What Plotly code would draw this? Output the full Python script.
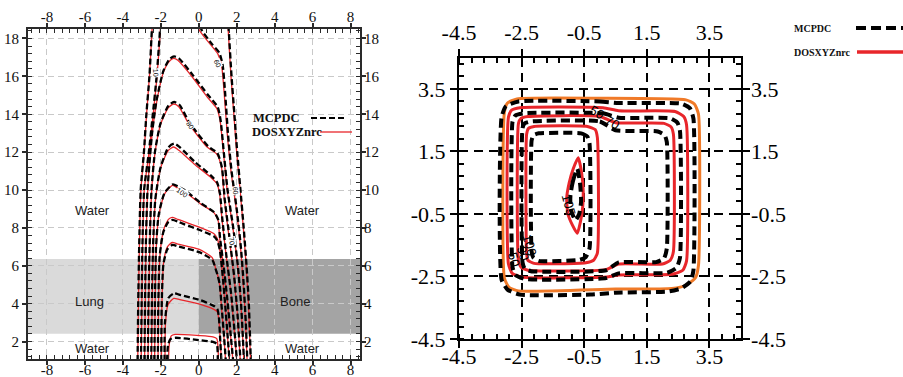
import plotly.graph_objects as go

# ---------------- data: left panel (depth-dose isodose lines) ----------------
LEFT_X_TICKS = [-8, -6, -4, -2, 0, 2, 4, 6, 8]
LEFT_X_TEXT = ["-8", "-6", "-4", "-2", "0", "2", "4", "6", "8"]
LEFT_Y_TICKS = [2, 4, 6, 8, 10, 12, 14, 16, 18]
LEFT_Y_TEXT = ["2", "4", "6", "8", "10", "12", "14", "16", "18"]

# slab regions
LUNG_X = [-9, 0]
BONE_X = [0, 8.5]
SLAB_Y = [2.41, 6.36]
REGION_TEXT = ["Water", "Water", "Lung", "Bone", "Water", "Water"]
REGION_X = [-5.6, 5.45, -5.75, 5.05, -5.6, 5.45]
REGION_Y = [8.9, 8.9, 4.12, 4.12, 1.66, 1.66]

DOS_LEFT_X = [
    [-3.22, -3.18, -3.13, -3.05, -2.88, -2.75, -2.6, -2.46, -2.43, 1.52, 1.55, 1.7, 1.85, 2.0, 2.18, 2.35, 2.5, 2.62, 2.75],
    [-3.04, -3.0, -2.96, -2.87, -2.62, -2.4, -2.2, -2.02, -2.0, -0.08, 0.0, 0.6, 1.0, 1.2, 1.35, 1.5, 1.7, 1.98, 2.2, 2.35, 2.47, 2.57],
    [-2.86, -2.82, -2.78, -2.69, -2.45, -2.2, -1.85, -1.55, -1.32, -1.1, -0.35, 0.44, 0.95, 1.12, 1.3, 1.5, 1.8, 2.05, 2.22, 2.4],
    [-2.68, -2.64, -2.58, -2.48, -2.3, -2.0, -1.6, -1.32, -1.05, -0.53, 0.44, 0.95, 1.2, 1.35, 1.6, 1.85, 2.03, 2.22],
    [-2.5, -2.46, -2.4, -2.28, -2.0, -1.6, -1.32, -1.05, -0.26, 0.62, 0.95, 1.1, 1.22, 1.45, 1.7, 1.88, 2.04],
    [-2.33, -2.3, -2.24, -2.1, -1.8, -1.38, -1.1, -0.79, 0.09, 0.79, 1.02, 1.1, 1.3, 1.5, 1.68, 1.85],
    [-2.15, -2.12, -2.05, -1.85, -1.6, -1.4, -1.1, -0.8, 0.0, 0.79, 0.97, 1.1, 1.25, 1.38, 1.52, 1.65],
    [-1.97, -1.94, -1.85, -1.65, -1.4, -1.1, 0.0, 0.7, 0.88, 1.0, 1.1, 1.2, 1.33, 1.45],
    [-1.78, -1.75, -1.62, -1.32, -1.0, 0.05, 0.8, 0.97, 1.05, 1.12, 1.22],
    [-1.6, -1.56, -1.45, -1.25, 0.0, 0.75, 0.95, 1.02, 1.05],
]
DOS_LEFT_Y = [
    [0.5, 4, 7, 10, 12, 14, 16, 18.5, 19.2, 19.2, 18.5, 16, 14, 12, 10, 8, 6, 4, 0.5],
    [0.5, 4, 7, 10, 12, 14, 16, 18.5, 19.2, 19.2, 18.5, 17.7, 17.2, 16.6, 15, 13, 11, 9, 7, 5, 3, 0.5],
    [0.5, 4, 7, 10, 13, 14.75, 16.25, 16.8, 16.95, 16.85, 15.98, 14.92, 14.3, 13.7, 12, 10, 8, 6, 4, 0.5],
    [0.5, 4, 7, 10, 12, 13.5, 14.35, 14.54, 14.4, 13.51, 12.27, 11.9, 11.2, 9.5, 7.5, 5.5, 3.5, 0.5],
    [0.5, 4, 7, 9.5, 11.2, 12.1, 12.27, 12.1, 11.39, 10.68, 10.35, 9.8, 8.5, 6.5, 4.5, 2.5, 0.5],
    [0.5, 4, 7, 8.7, 9.8, 10.24, 10.1, 9.95, 9.27, 8.82, 8.4, 7.5, 6.0, 4.2, 2.3, 0.5],
    [0.5, 4, 6.5, 7.9, 8.45, 8.56, 8.45, 8.35, 8.05, 7.7, 7.45, 6.9, 5.5, 4.0, 2.2, 0.5],
    [0.5, 4, 6.2, 7.0, 7.23, 7.15, 6.88, 6.44, 5.9, 5.5, 5.0, 3.8, 2.2, 0.5],
    [0.5, 3.0, 3.95, 4.28, 4.22, 3.98, 3.7, 3.58, 3.25, 2.3, 0.5],
    [0.5, 1.8, 2.3, 2.38, 2.32, 2.25, 2.15, 1.6, 0.5],
]

MC_LEFT_X = [
    [-3.23, -3.19, -3.14, -3.06, -2.89, -2.76, -2.6, -2.47, -2.44, 1.55, 1.58, 1.73, 1.88, 2.03, 2.2, 2.37, 2.52, 2.64, 2.76],
    [-3.05, -3.01, -2.97, -2.88, -2.63, -2.42, -2.22, -2.04, -2.02, 0.05, 0.13, 0.7, 1.08, 1.26, 1.4, 1.54, 1.73, 2.0, 2.22, 2.37, 2.48, 2.58],
    [-2.87, -2.83, -2.79, -2.7, -2.46, -2.22, -1.86, -1.55, -1.3, -1.05, -0.3, 0.5, 1.0, 1.15, 1.32, 1.52, 1.82, 2.06, 2.23, 2.41],
    [-2.69, -2.65, -2.59, -2.49, -2.31, -2.02, -1.6, -1.3, -1.02, -0.5, 0.5, 0.98, 1.22, 1.37, 1.62, 1.86, 2.04, 2.23],
    [-2.51, -2.47, -2.41, -2.29, -2.01, -1.6, -1.3, -1.02, -0.22, 0.66, 0.97, 1.12, 1.24, 1.46, 1.71, 1.89, 2.05],
    [-2.34, -2.31, -2.25, -2.11, -1.8, -1.36, -1.08, -0.75, 0.12, 0.82, 1.04, 1.12, 1.31, 1.51, 1.69, 1.86],
    [-2.16, -2.13, -2.06, -1.86, -1.6, -1.38, -1.08, -0.78, 0.02, 0.8, 0.98, 1.11, 1.26, 1.39, 1.53, 1.66],
    [-1.98, -1.95, -1.86, -1.65, -1.38, -1.08, 0.02, 0.72, 0.9, 1.01, 1.11, 1.21, 1.34, 1.46],
    [-1.8, -1.78, -1.6, -1.3, -1.0, 0.05, 0.8, 0.98, 1.06, 1.12, 1.22],
    [-1.68, -1.62, -1.5, -1.25, 0.0, 0.75, 0.95, 1.0, 1.0],
]
MC_LEFT_Y = [
    [0.5, 4, 7, 10, 12, 14, 16, 18.5, 19.2, 19.2, 18.5, 16, 14, 12, 10, 8, 6, 4, 0.5],
    [0.5, 4, 7, 10, 12, 14, 16, 18.5, 19.2, 19.2, 18.5, 17.7, 17.25, 16.6, 15, 13, 11, 9, 7, 5, 3, 0.5],
    [0.5, 4, 7, 10, 13, 14.75, 16.3, 16.9, 17.05, 16.95, 16.05, 15.0, 14.38, 13.7, 12, 10, 8, 6, 4, 0.5],
    [0.5, 4, 7, 10, 12, 13.5, 14.45, 14.65, 14.5, 13.58, 12.3, 11.95, 11.2, 9.5, 7.5, 5.5, 3.5, 0.5],
    [0.5, 4, 7, 9.5, 11.2, 12.25, 12.45, 12.28, 11.5, 10.75, 10.4, 9.8, 8.5, 6.5, 4.5, 2.5, 0.5],
    [0.5, 4, 7, 8.7, 9.85, 10.3, 10.18, 10.0, 9.3, 8.82, 8.4, 7.5, 6.0, 4.2, 2.3, 0.5],
    [0.5, 4, 6.5, 7.8, 8.32, 8.42, 8.32, 8.2, 7.9, 7.55, 7.32, 6.85, 5.5, 4.0, 2.2, 0.5],
    [0.5, 4, 6.1, 6.88, 7.1, 7.02, 6.72, 6.3, 5.8, 5.45, 5.0, 3.8, 2.2, 0.5],
    [0.5, 3.0, 4.3, 4.55, 4.47, 4.2, 3.88, 3.72, 3.3, 2.3, 0.5],
    [0.5, 1.8, 2.12, 2.2, 2.08, 1.98, 1.88, 1.4, 0.5],
]

LEFT_LBL_TEXT = ["60", "80", "10", "100", "60", "70"]
LEFT_LBL_X = [1.0, -0.45, -2.27, -0.9, 1.92, 1.76]
LEFT_LBL_Y = [16.7, 13.4, 16.2, 9.85, 9.95, 7.3]
LEFT_LBL_ANG = [65, 55, 85, 35, 85, 80]

# ---------------- data: right panel (transverse isodose lines) ----------------
RIGHT_TICKS = [-4.5, -2.5, -0.5, 1.5, 3.5]
RIGHT_TEXT = ["-4.5", "-2.5", "-0.5", "1.5", "3.5"]

DOS50_X = [-2.65, 0.0, 2.75, 3.02, 3.15, 3.15, 3.05, 2.75, 2.3, 0.5, -2.6, -2.9, -3.05, -3.05, -2.95, -2.65]
DOS50_Y = [3.18, 3.2, 3.15, 3.02, 2.7, -2.15, -2.55, -2.78, -2.88, -2.9, -2.96, -2.85, -2.55, 2.75, 3.05, 3.18]
MC50_X = [-2.6, 0.0, 0.6, 2.6, 2.88, 2.99, 2.99, 2.9, 2.6, 2.2, 0.5, -0.3, -2.55, -2.95, -3.14, -3.14, -3.0, -2.6]
MC50_Y = [3.1, 3.1, 3.05, 3.03, 2.88, 2.55, -2.3, -2.65, -2.88, -2.98, -3.02, -3.08, -3.08, -2.92, -2.6, 2.6, 2.95, 3.1]

DOS70_X = [-2.55, 0.1, 0.6, 2.4, 2.68, 2.77, 2.77, 2.65, 2.3, 0.6, 0.2, -2.5, -2.8, -2.92, -2.92, -2.82, -2.55]
DOS70_Y = [2.9, 2.9, 2.8, 2.78, 2.62, 2.35, -2.0, -2.3, -2.43, -2.45, -2.52, -2.52, -2.4, -2.1, 2.6, 2.82, 2.9]
MC70_X = [-2.45, 0.1, 0.6, 2.25, 2.48, 2.56, 2.56, 2.45, 2.15, 0.6, 0.2, -2.4, -2.7, -2.79, -2.79, -2.7, -2.45]
MC70_Y = [2.72, 2.72, 2.58, 2.56, 2.42, 2.15, -1.9, -2.22, -2.38, -2.4, -2.55, -2.58, -2.45, -2.2, 2.45, 2.65, 2.72]

DOS90_X = [-2.3, 0.0, 0.5, 2.05, 2.28, 2.35, 2.35, 2.25, 2.0, 0.6, 0.2, -2.3, -2.52, -2.6, -2.6, -2.52, -2.3]
DOS90_Y = [2.62, 2.62, 2.42, 2.4, 2.28, 2.05, -1.7, -1.98, -2.1, -2.1, -2.28, -2.3, -2.2, -2.0, 2.4, 2.56, 2.62]
MC90_X = [-2.2, 0.0, 0.5, 1.85, 2.07, 2.14, 2.14, 2.05, 1.8, 0.6, 0.2, -2.2, -2.4, -2.47, -2.47, -2.4, -2.2]
MC90_Y = [2.46, 2.46, 2.18, 2.14, 2.02, 1.8, -1.6, -1.92, -2.04, -2.05, -2.3, -2.33, -2.25, -2.05, 2.25, 2.4, 2.46]

DOS100_X = [-2.1, -0.4, -0.15, -0.08, -0.08, -0.2, -0.45, -2.1, -2.3, -2.34, -2.34, -2.28, -2.1]
DOS100_Y = [2.3, 2.3, 2.2, 1.95, -1.75, -1.98, -2.06, -2.08, -1.98, -1.75, 2.05, 2.24, 2.3]
MC100_X = [-1.95, -0.6, -0.4, -0.33, -0.33, -0.45, -0.65, -1.95, -2.12, -2.18, -2.18, -2.12, -1.95]
MC100_Y = [2.08, 2.08, 1.98, 1.75, -1.6, -1.88, -1.97, -2.0, -1.9, -1.7, 1.85, 2.02, 2.08]

DOS105_X = [-0.69, -0.85, -0.98, -1.06, -1.02, -0.88, -0.72, -0.62, -0.55, -0.53, -0.58, -0.69]
DOS105_Y = [1.3, 0.95, 0.5, 0.0, -0.5, -0.85, -1.12, -0.75, -0.3, 0.2, 0.8, 1.3]
MC105_X = [-0.72, -0.86, -0.94, -0.93, -0.78, -0.66, -0.6, -0.63, -0.72]
MC105_Y = [0.95, 0.55, 0.1, -0.35, -0.7, -0.5, -0.1, 0.45, 0.95]

RIGHT_LBL_TEXT = ["50", "70", "105", "100", "90", "50"]
RIGHT_LBL_X = [-0.08, 0.39, -1.0, -2.23, -2.45, -2.74]
RIGHT_LBL_Y = [2.76, 2.42, -0.2, -1.5, -1.76, -1.95]
RIGHT_LBL_ANG = [30, 30, 75, 75, 75, 75]

SERIES = ["MCPDC", "DOSXYZnrc"]

# ---------------- styles ----------------
RED = "#e8262b"
ORANGE = "#f07a28"
SERIF = "Liberation Serif, Times New Roman, serif"
SANS = "Liberation Sans, Arial, sans-serif"
W, H = 903, 377

fig = go.Figure()

# left panel contours
for xs, ys in zip(DOS_LEFT_X, DOS_LEFT_Y):
    fig.add_trace(go.Scatter(x=xs, y=ys, mode="lines", xaxis="x", yaxis="y",
                             line=dict(color=RED, width=1.3, shape="spline", smoothing=0.6),
                             showlegend=False, hoverinfo="skip"))
for xs, ys in zip(MC_LEFT_X, MC_LEFT_Y):
    fig.add_trace(go.Scatter(x=xs, y=ys, mode="lines", xaxis="x", yaxis="y",
                             line=dict(color="black", width=2.3, dash="6px,3px", shape="spline", smoothing=0.6),
                             showlegend=False, hoverinfo="skip"))

# right panel contours
right_sets = [
    (DOS50_X, DOS50_Y, ORANGE, 3.0, "solid"),
    (DOS70_X, DOS70_Y, RED, 3.0, "solid"),
    (DOS90_X, DOS90_Y, RED, 3.0, "solid"),
    (DOS100_X, DOS100_Y, RED, 3.0, "solid"),
    (DOS105_X, DOS105_Y, RED, 3.0, "solid"),
    (MC50_X, MC50_Y, "black", 4.0, "9px,5px"),
    (MC70_X, MC70_Y, "black", 4.0, "9px,5px"),
    (MC90_X, MC90_Y, "black", 4.0, "9px,5px"),
    (MC100_X, MC100_Y, "black", 4.0, "9px,5px"),
    (MC105_X, MC105_Y, "black", 4.0, "9px,5px"),
]
for xs, ys, col, wd, ds in right_sets:
    fig.add_trace(go.Scatter(x=xs, y=ys, mode="lines", xaxis="x2", yaxis="y2",
                             line=dict(color=col, width=wd, dash=ds, shape="spline", smoothing=0.5),
                             showlegend=False, hoverinfo="skip"))

# dummy traces to register mirrored label axes
fig.add_trace(go.Scatter(x=[None], y=[None], xaxis="x3", yaxis="y3", showlegend=False, hoverinfo="skip"))
fig.add_trace(go.Scatter(x=[None], y=[None], xaxis="x4", yaxis="y4", showlegend=False, hoverinfo="skip"))

# domains (pixel-derived)
LX = [28 / W, 360 / W]
LY = [1 - 359 / H, 1 - 29 / H]
RX = [459 / W, 740.7 / W]
RY = [1 - 339 / H, 1 - 57.7 / H]

AX_COL = "#2a2a2a"

def left_axis(tickvals, ticktext, rng, dom, side, grid, **kw):
    d = dict(range=rng, domain=dom, side=side, tickmode="array", tickvals=tickvals, ticktext=ticktext,
             ticks="outside", ticklen=4, tickwidth=1.5, tickcolor=AX_COL,
             showline=True, linecolor=AX_COL, linewidth=2,
             showgrid=grid, gridcolor="#c9c9c9", gridwidth=1, griddash="6px,4px",
             zeroline=False, tickfont=dict(family=SERIF, size=15, color="#111"),
             minor=dict(ticks="inside", ticklen=4, tickwidth=1.2, tickcolor=AX_COL, dtick=0.4, tick0=0, showgrid=False),
             fixedrange=True, automargin=False)
    d.update(kw)
    return d

def right_axis(dom, side, grid, **kw):
    d = dict(range=[-4.5, 4.5], domain=dom, side=side, tickmode="array", tickvals=RIGHT_TICKS, ticktext=RIGHT_TEXT,
             ticks="outside", ticklen=7, tickwidth=2, tickcolor="black",
             showline=True, linecolor="black", linewidth=2,
             showgrid=grid, gridcolor="black", gridwidth=1.8, griddash="9px,6px",
             zeroline=False, tickfont=dict(family=SERIF, size=22, color="black"),
             minor=dict(ticks="inside", ticklen=5, tickwidth=1.5, tickcolor="black", dtick=0.4, tick0=-4.5, showgrid=False),
             fixedrange=True, automargin=False)
    d.update(kw)
    return d

layout = dict(
    width=W, height=H, margin=dict(l=0, r=0, t=0, b=0, pad=0), autosize=False,
    paper_bgcolor="white", plot_bgcolor="white", showlegend=False,
    xaxis=left_axis(LEFT_X_TICKS, LEFT_X_TEXT, [-9, 8.5], LX, "bottom", True, anchor="y", ticklabelstandoff=-8),
    yaxis=left_axis(LEFT_Y_TICKS, LEFT_Y_TEXT, [1.08, 18.5], LY, "left", True, anchor="x"),
    xaxis3=left_axis(LEFT_X_TICKS, LEFT_X_TEXT, [-9, 8.5], LX, "top", False, anchor="y3", overlaying="x",
                     ticklabelstandoff=-5),
    yaxis3=left_axis(LEFT_Y_TICKS, LEFT_Y_TEXT, [1.08, 18.5], LY, "right", False, anchor="x3", overlaying="y",
                     ticklabelstandoff=-5),
    xaxis2=right_axis(RX, "bottom", True, anchor="y2", ticklabelstandoff=-10),
    yaxis2=right_axis(RY, "left", True, anchor="x2"),
    xaxis4=right_axis(RX, "top", False, anchor="y4", overlaying="x2"),
    yaxis4=right_axis(RY, "right", False, anchor="x4", overlaying="y2", ticklabelstandoff=-3),
)
fig.update_layout(**layout)

# slab shading
fig.add_shape(type="rect", xref="x", yref="y", x0=LUNG_X[0], x1=LUNG_X[1], y0=SLAB_Y[0], y1=SLAB_Y[1],
              fillcolor="#dadada", line=dict(width=0), layer="below")
fig.add_shape(type="rect", xref="x", yref="y", x0=BONE_X[0], x1=BONE_X[1], y0=SLAB_Y[0], y1=SLAB_Y[1],
              fillcolor="#a4a4a4", line=dict(width=0), layer="below")

for t, x, y in zip(REGION_TEXT, REGION_X, REGION_Y):
    fig.add_annotation(x=x, y=y, xref="x", yref="y", text=t, showarrow=False,
                       font=dict(family=SANS, size=13, color="#222"))

for t, x, y, a in zip(LEFT_LBL_TEXT, LEFT_LBL_X, LEFT_LBL_Y, LEFT_LBL_ANG):
    fig.add_annotation(x=x, y=y, xref="x", yref="y", text=t, showarrow=False, textangle=a,
                       font=dict(family=SANS, size=7, color="black"), bgcolor="white", borderpad=0)

for t, x, y, a in zip(RIGHT_LBL_TEXT, RIGHT_LBL_X, RIGHT_LBL_Y, RIGHT_LBL_ANG):
    fig.add_annotation(x=x, y=y, xref="x2", yref="y2", text=t, showarrow=False, textangle=a,
                       font=dict(family=SANS, size=13, color="black"))

# left in-plot legend
fig.add_annotation(x=251 / W, y=1 - 118 / H, xref="paper", yref="paper", xanchor="left", yanchor="middle",
                   text="<b>" + SERIES[0] + "</b>", showarrow=False, font=dict(family=SERIF, size=12.5, color="#111"))
fig.add_annotation(x=250 / W, y=1 - 132 / H, xref="paper", yref="paper", xanchor="left", yanchor="middle",
                   text="<b>" + SERIES[1] + "</b>", showarrow=False, font=dict(family=SERIF, size=12.5, color="#111"))
fig.add_shape(type="line", xref="paper", yref="paper", x0=311 / W, x1=344 / W, y0=1 - 118 / H, y1=1 - 118 / H,
              line=dict(color="black", width=2, dash="6px,3px"))
fig.add_shape(type="line", xref="paper", yref="paper", x0=320 / W, x1=352 / W, y0=1 - 132 / H, y1=1 - 132 / H,
              line=dict(color=RED, width=1.3))

# right legend
fig.add_annotation(x=792 / W, y=1 - 28 / H, xref="paper", yref="paper", xanchor="left", yanchor="middle",
                   text="<b>" + SERIES[0] + "</b>", showarrow=False, font=dict(family=SERIF, size=10, color="#111"))
fig.add_annotation(x=792 / W, y=1 - 52 / H, xref="paper", yref="paper", xanchor="left", yanchor="middle",
                   text="<b>" + SERIES[1] + "</b>", showarrow=False, font=dict(family=SERIF, size=10, color="#111"))
fig.add_shape(type="line", xref="paper", yref="paper", x0=856 / W, x1=1.0, y0=1 - 28 / H, y1=1 - 28 / H,
              line=dict(color="black", width=4, dash="10px,5px"))
fig.add_shape(type="line", xref="paper", yref="paper", x0=857 / W, x1=1.0, y0=1 - 52 / H, y1=1 - 52 / H,
              line=dict(color=RED, width=3.5))

fig.write_html("out.html", config={"displayModeBar": False},
               post_script="document.body.style.margin='0';document.body.style.overflow='hidden';")
